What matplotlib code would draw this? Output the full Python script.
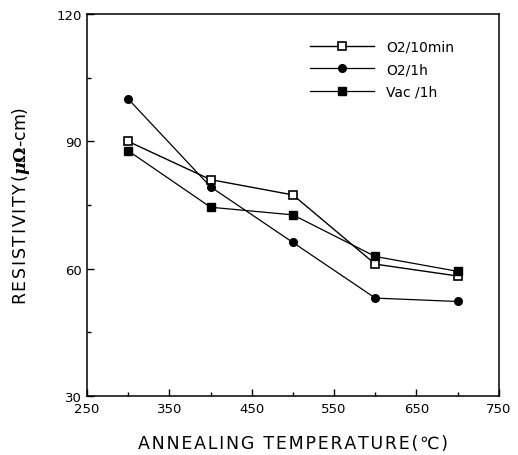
import matplotlib
matplotlib.use("Agg")
import matplotlib.pyplot as plt

temps = [300, 400, 500, 600, 700]
o2_10min = [90, 81, 77.4, 61.1, 58.3]
o2_1h = [100, 79.3, 66.2, 53.1, 52.3]
vac_1h = [87.8, 74.5, 72.7, 62.9, 59.4]
labels = ["O2/10min", "O2/1h", "Vac /1h"]
xticks = [250, 350, 450, 550, 650, 750]
yticks = [30, 60, 90, 120]

plt.rcParams['font.family'] = ['DejaVu Sans']
plt.rcParams['mathtext.fontset'] = 'dejavuserif'
fig = plt.figure(figsize=(5.18, 4.56), dpi=100)
ax = fig.add_axes([0.168, 0.129, 0.795, 0.838])

ax.plot(temps, o2_10min, color='black', lw=1.0, marker='s', ms=6,
        mfc='white', mec='black', mew=1.2, label=labels[0])
ax.plot(temps, o2_1h, color='black', lw=0.9, marker='o', ms=5.5,
        mfc='black', mec='black', label=labels[1])
ax.plot(temps, vac_1h, color='black', lw=0.9, marker='s', ms=6,
        mfc='black', mec='black', label=labels[2])

ax.set_xlim(250, 750)
ax.set_ylim(30, 120)
ax.set_xticks(xticks)
ax.set_yticks(yticks)
ax.set_xticks([300, 400, 500, 600, 700], minor=True)
ax.set_yticks([45, 75, 105], minor=True)
ax.tick_params(which='both', direction='in', top=False, right=False, labelsize=9.5)
ax.tick_params(which='major', length=5, width=1)
ax.tick_params(which='minor', length=3, width=1)
ax.tick_params(axis='x', pad=4)
for s in ax.spines.values():
    s.set_linewidth(1.1)

HS = "\u200a"
def spaced(t):
    return HS.join(list(t))

ax.set_xlabel(spaced("ANNEALING TEMPERATURE(℃)"), fontsize=12.5, labelpad=14)
ax.set_ylabel(spaced("RESISTIVITY(") + r"$\boldsymbol{\mu\Omega}$" + "-cm)",
              fontsize=12.5, labelpad=18)

ax.legend(loc='upper right', frameon=False, fontsize=10, handlelength=4.6,
          bbox_to_anchor=(0.922, 0.965), labelspacing=0.6, handletextpad=0.9)

fig.savefig("out.png", dpi=100)
